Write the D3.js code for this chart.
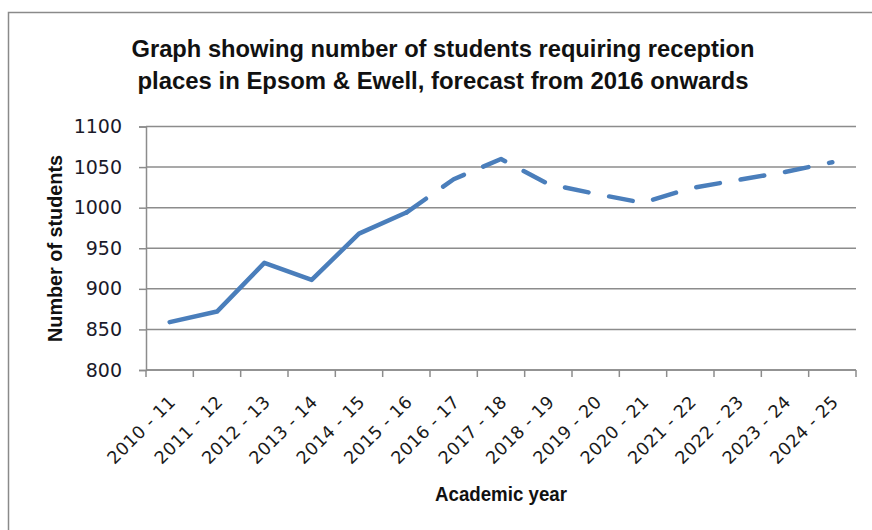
<!DOCTYPE html>
<html>
<head>
<meta charset="utf-8">
<script src="https://cdn.jsdelivr.net/npm/d3@7"></script>
<style>
  body { margin: 0; background: #fff; }
  svg { display: block; }
</style>
</head>
<body>
<svg id="chart"></svg>
<script>
var years = ["2010 - 11", "2011 - 12", "2012 - 13", "2013 - 14", "2014 - 15", "2015 - 16",
             "2016 - 17", "2017 - 18", "2018 - 19", "2019 - 20", "2020 - 21", "2021 - 22",
             "2022 - 23", "2023 - 24", "2024 - 25"];
var students = [859, 872, 932, 911, 968, 994, 1035, 1060, 1029, 1017, 1006, 1024, 1034, 1044, 1056];
var forecastFrom = "2015 - 16";
var yTicks = [800, 850, 900, 950, 1000, 1050, 1100];
var titleLines = ["Graph showing number of students requiring reception",
                  "places in Epsom & Ewell, forecast from 2016 onwards"];

var W = 872, H = 530;
var plotLeft = 146, plotRight = 856, plotTop = 126.5, plotBottom = 370;

var svg = d3.select("#chart").attr("width", W).attr("height", H);

// outer chart border (runs off the right and bottom edge)
svg.append("rect")
    .attr("x", 8.5).attr("y", 12.5)
    .attr("width", 900).attr("height", 600)
    .attr("fill", "none")
    .attr("stroke", "#8a8a8a")
    .attr("stroke-width", 1.5);

var x = d3.scaleBand().domain(years).range([plotLeft, plotRight]);
var y = d3.scaleLinear().domain([800, 1100]).range([plotBottom, plotTop]);

// gridlines
svg.append("g")
    .selectAll("line")
    .data(yTicks)
    .enter()
    .append("line")
        .attr("x1", plotLeft).attr("x2", plotRight)
        .attr("y1", function(d) { return y(d); })
        .attr("y2", function(d) { return y(d); })
        .attr("stroke", "#8c8c8c")
        .attr("stroke-width", 1.5);

// y axis
var yAxis = svg.append("g")
    .attr("transform", `translate(${plotLeft},0)`)
    .call(d3.axisLeft(y).tickValues(yTicks).tickFormat(d3.format("d")).tickSize(7).tickPadding(17));
yAxis.select(".domain").attr("stroke", "#8c8c8c").attr("stroke-width", 1.5);
yAxis.selectAll(".tick line").attr("stroke", "#8c8c8c").attr("stroke-width", 1.5);
yAxis.selectAll("text")
    .attr("font-family", "DejaVu Sans, Verdana, sans-serif")
    .attr("font-size", 19)
    .attr("fill", "#1a1a2a");

// x axis: ticks at band boundaries
var xAxis = svg.append("g").attr("transform", `translate(0,${plotBottom})`);
xAxis.append("line")
    .attr("x1", plotLeft).attr("x2", plotRight)
    .attr("stroke", "#8c8c8c").attr("stroke-width", 1.5);
xAxis.selectAll(".bt")
    .data(years.concat(["end"]))
    .enter()
    .append("line")
        .attr("x1", function(d, i) { return plotLeft + i * x.bandwidth(); })
        .attr("x2", function(d, i) { return plotLeft + i * x.bandwidth(); })
        .attr("y1", 0).attr("y2", 7)
        .attr("stroke", "#8c8c8c").attr("stroke-width", 1.5);
xAxis.selectAll(".lbl")
    .data(years)
    .enter()
    .append("text")
        .attr("transform", function(d) {
            return `translate(${x(d) + x.bandwidth() / 2 + 7},${33}) rotate(-45)`;
        })
        .attr("text-anchor", "end")
        .attr("font-family", "DejaVu Sans, Verdana, sans-serif")
        .attr("font-size", 17.5)
        .attr("letter-spacing", 0.4)
        .attr("fill", "#1a1a1a")
        .text(function(d) { return d; });

// line
var line = d3.line()
    .x(function(d) { return x(d.year) + x.bandwidth() / 2; })
    .y(function(d) { return y(d.value); });

var pts = years.map(function(d, i) { return { year: d, value: students[i] }; });
var cut = years.indexOf(forecastFrom);

svg.append("path")
    .datum(pts.slice(0, cut + 1))
    .attr("fill", "none")
    .attr("stroke", "#4a7ebb")
    .attr("stroke-width", 4.5)
    .attr("stroke-linecap", "round")
    .attr("stroke-linejoin", "round")
    .attr("d", line);

svg.append("path")
    .datum(pts.slice(cut))
    .attr("fill", "none")
    .attr("stroke", "#4a7ebb")
    .attr("stroke-width", 4.5)
    .attr("stroke-linecap", "round")
    .attr("stroke-linejoin", "round")
    .attr("stroke-dasharray", "24,21")
    .attr("d", line);

// titles
var tW = [623, 611];
svg.append("g")
    .selectAll("text")
    .data(titleLines)
    .enter()
    .append("text")
        .attr("x", 443)
        .attr("y", function(d, i) { return 57 + i * 32; })
        .attr("text-anchor", "middle")
        .attr("font-family", "Liberation Sans, Arial, sans-serif")
        .attr("font-weight", "bold")
        .attr("font-size", 24)
        .attr("textLength", function(d, i) { return tW[i]; })
        .attr("lengthAdjust", "spacingAndGlyphs")
        .attr("fill", "#111")
        .text(function(d) { return d; });

svg.append("text")
    .attr("x", 501)
    .attr("y", 501)
    .attr("text-anchor", "middle")
    .attr("font-family", "Liberation Sans, Arial, sans-serif")
    .attr("font-weight", "bold")
    .attr("font-size", 20)
    .attr("textLength", 132)
    .attr("lengthAdjust", "spacingAndGlyphs")
    .attr("fill", "#111")
    .text("Academic year");

svg.append("text")
    .attr("transform", "translate(62,248.5) rotate(-90)")
    .attr("text-anchor", "middle")
    .attr("font-family", "Liberation Sans, Arial, sans-serif")
    .attr("font-weight", "bold")
    .attr("font-size", 20)
    .attr("textLength", 187)
    .attr("lengthAdjust", "spacingAndGlyphs")
    .attr("fill", "#111")
    .text("Number of students");
</script>
</body>
</html>
